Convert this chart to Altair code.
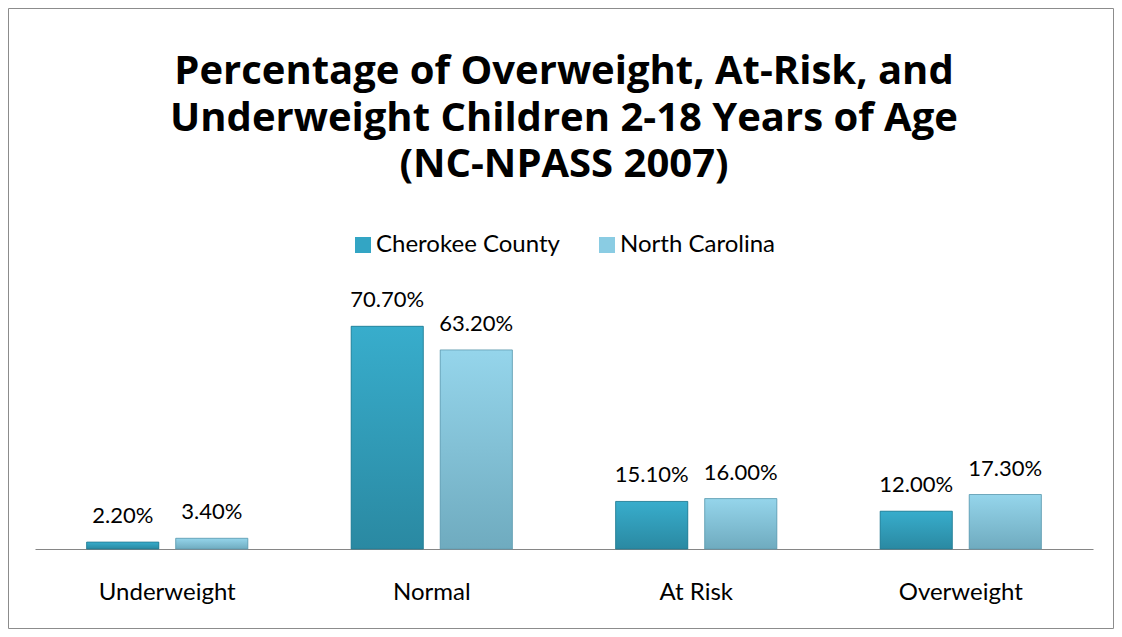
import altair as alt
import pandas as pd

categories = ["Underweight", "Normal", "At Risk", "Overweight"]
series = ["Cherokee County", "North Carolina"]
cherokee = [2.2, 70.7, 15.1, 12.0]
north_carolina = [3.4, 63.2, 16.0, 17.3]
colors = ["#33A5C4", "#8ACCE3"]
gradients = [("#38ADCC", "#2A89A2"), ("#95D5EB", "#6FABBF")]
edge_colors = ["#237A91", "#5F9AAE"]
title_lines = [
    "Percentage of Overweight, At-Risk, and",
    "Underweight Children 2-18 Years of Age",
    "(NC-NPASS 2007)",
]

rows = []
for c, a, b in zip(categories, cherokee, north_carolina):
    rows.append({"category": c, "series": series[0], "value": a})
    rows.append({"category": c, "series": series[1], "value": b})
df = pd.DataFrame(rows)
df["label"] = df["value"].map(lambda v: f"{v:.2f}%")

FONT = "Lato"
TITLE_FONT = "Open Sans"
W, H = 1058, 252

x = alt.X(
    "category:N", sort=categories,
    scale=alt.Scale(paddingInner=0, paddingOuter=0),
    axis=alt.Axis(title=None, labelAngle=0, ticks=False, domainColor="#868686",
                  domainWidth=1.2, labelFontSize=24, labelFont=FONT,
                  labelColor="#000000", labelPadding=31, grid=False),
)
xo = alt.XOffset("series:N", sort=series,
                 scale=alt.Scale(paddingInner=0.19, paddingOuter=0.58))
y = alt.Y("value:Q", scale=alt.Scale(domain=[0, 80]), axis=None)

base_bars = alt.Chart(df).mark_bar().encode(
    x=x, xOffset=xo, y=y,
    color=alt.Color(
        "series:N", sort=series,
        scale=alt.Scale(domain=series, range=colors),
        legend=alt.Legend(orient="none", legendX=316, legendY=-64,
                          direction="horizontal", title=None,
                          symbolType="square", symbolSize=256,
                          labelFontSize=24, labelFont=FONT, labelColor="#000000",
                          labelLimit=400, columnPadding=35, labelOffset=1,
                          padding=0, symbolStrokeWidth=0),
    ),
)

grad_layers = []
for s, (top, bottom), edge in zip(series, gradients, edge_colors):
    grad_layers.append(
        alt.Chart(df).transform_filter(alt.datum.series == s).mark_bar(
            fill=alt.Gradient(gradient="linear", x1=0, x2=0, y1=0, y2=1,
                              stops=[alt.GradientStop(color=top, offset=0),
                                     alt.GradientStop(color=bottom, offset=1)]),
            stroke=edge, strokeWidth=0.8,
        ).encode(x=x, xOffset=xo, y=y)
    )

labels = alt.Chart(df).mark_text(dy=-19, baseline="alphabetic", fontSize=22,
                                 font=FONT, color="#000000").encode(
    x=x, xOffset=xo, y=y, text="label:N"
)

border = alt.Chart(pd.DataFrame({"k": [0]})).mark_rect(
    fill=None, stroke="#8C8C8C", strokeWidth=1
).encode(
    x=alt.value(-26.5), x2=alt.value(1078.5),
    y=alt.value(-288.5), y2=alt.value(331.5),
)

chart = alt.layer(border, base_bars, *grad_layers, labels).properties(
    width=W, height=H,
    title=alt.Title(title_lines, fontSize=40, font=TITLE_FONT, fontWeight="bold",
                    lineHeight=46.5, anchor="middle", color="#000000",
                    offset=0, dy=177),
    autosize=alt.AutoSizeParams(type="none"),
    padding={"left": 27, "right": 21, "top": 289, "bottom": 80},
    background="white",
).configure_view(stroke=None)

chart.save("out.html", embed_options={"renderer": "svg", "actions": False})
